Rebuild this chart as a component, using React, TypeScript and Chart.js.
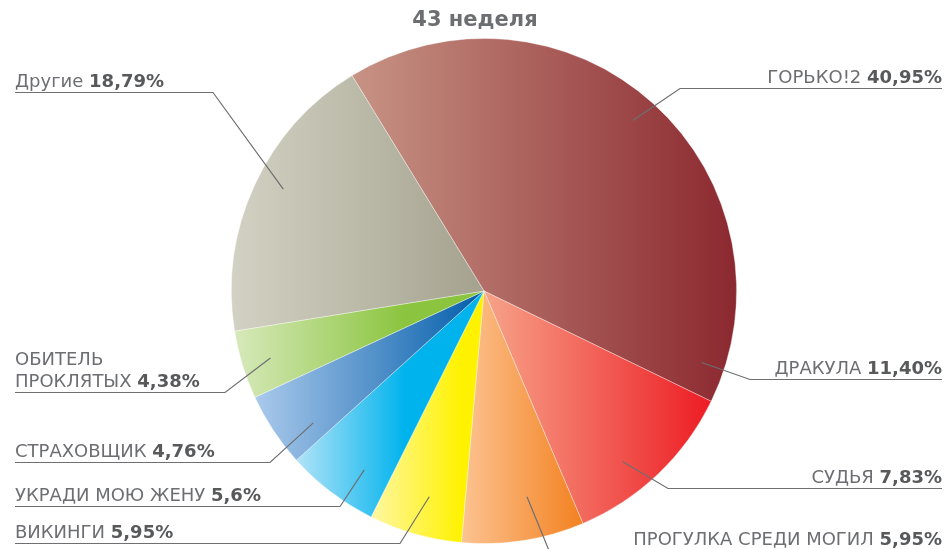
import React, { useEffect, useRef } from "react";
import { Chart, registerables } from "chart.js";

Chart.register(...registerables);

// ---------- data ----------
const TITLE = "43 неделя";
const SLICE_LABELS = [
  "ГОРЬКО!2",
  "ДРАКУЛА",
  "СУДЬЯ",
  "ПРОГУЛКА СРЕДИ МОГИЛ",
  "ВИКИНГИ",
  "СТРАХОВЩИК",
  "ОБИТЕЛЬ ПРОКЛЯТЫХ",
  "Другие",
];
const SLICE_VALUES = [40.95, 11.4, 7.83, 5.95, 5.95, 4.76, 4.38, 18.79];

// callout texts (as printed on the chart)
const CALLOUT_NAMES = [
  ["ГОРЬКО!2"],
  ["ДРАКУЛА"],
  ["СУДЬЯ"],
  ["ПРОГУЛКА СРЕДИ МОГИЛ"],
  ["ВИКИНГИ"],
  ["УКРАДИ МОЮ ЖЕНУ"],
  ["СТРАХОВЩИК"],
  ["ОБИТЕЛЬ", "ПРОКЛЯТЫХ"],
  ["Другие"],
];
const CALLOUT_PERCENTS = ["40,95%", "11,40%", "7,83%", "5,95%", "5,95%", "5,6%", "4,76%", "4,38%", "18,79%"];

// ---------- styles / layout ----------
const GRADIENT_LIGHT = ["#c79384", "#f7a389", "#fcc391", "#fff7a3", "#b2e3f8", "#abcaec", "#d7e9bb", "#d3d1c3"];
const GRADIENT_DARK = ["#8b282f", "#ed1c24", "#f38120", "#fff200", "#00b3ed", "#0a62ad", "#8bc53f", "#a4a28e"];
const GRADIENT_DARK_STOP = [1, 1, 1, 0.8, 0.58, 0.95, 0.68, 1];
const ROTATION_DEG = -31.5;

// anchor: angle (deg clockwise from top) & fraction of radius; dx: elbow x offset from centre; dy: underline y offset from centre
const CALLOUT_LAYOUT = [
  { side: "right", angle: 41.1, r: 0.896, dx: 196, dy: -203 },
  { side: "right", angle: 108.2, r: 0.907, dx: 266, dy: 88 },
  { side: "right", angle: 140.9, r: 0.871, dx: 184, dy: 197 },
  { side: "right", angle: 168.2, r: 0.832, dx: 65, dy: 258.5 },
  { side: "left", angle: 194.9, r: 0.843, dx: -84, dy: 252 },
  { side: "left", angle: 213.8, r: 0.852, dx: -144, dy: 215 },
  { side: "left", angle: 232.3, r: 0.854, dx: -214, dy: 171 },
  { side: "left", angle: 252.6, r: 0.886, dx: -259, dy: 101 },
  { side: "left", angle: 296.9, r: 0.891, dx: -271, dy: -199 },
];
const LEFT_X = 15;
const RIGHT_MARGIN = 8;
const LABEL_FONT = '18px "DejaVu Sans"';
const LABEL_FONT_BOLD = 'bold 18px "DejaVu Sans"';
const TITLE_FONT = 'bold 21px "DejaVu Sans"';
const NAME_COLOR = "#6d6e71";
const PCT_COLOR = "#58595b";
const LINE_COLOR = "#6f6f71";
const LINE_GAP = 22;

function sliceGradient(ctx: any) {
  const i = ctx.dataIndex;
  const chart = ctx.chart;
  const area = chart.chartArea;
  if (i === undefined || i === null) return GRADIENT_DARK[0];
  if (!area) return GRADIENT_DARK[i];
  const cx = (area.left + area.right) / 2;
  const r = Math.min(area.right - area.left, area.bottom - area.top) / 2;
  const values: number[] = ctx.dataset.data;
  const total = values.reduce((a, b) => a + b, 0);
  let start = ROTATION_DEG;
  for (let j = 0; j < i; j++) start += (values[j] / total) * 360;
  const end = start + (values[i] / total) * 360;
  const xs = [cx, cx + r * Math.sin((start * Math.PI) / 180), cx + r * Math.sin((end * Math.PI) / 180)];
  for (let k = -2; k <= 3; k++) {
    const a = 90 + k * 180;
    if (a > start && a < end) xs.push(cx + r * Math.sin((a * Math.PI) / 180));
  }
  const x0 = Math.min(...xs);
  const x1 = Math.max(...xs);
  const g = chart.ctx.createLinearGradient(x0, 0, x1, 0);
  g.addColorStop(0, GRADIENT_LIGHT[i]);
  g.addColorStop(GRADIENT_DARK_STOP[i], GRADIENT_DARK[i]);
  if (GRADIENT_DARK_STOP[i] < 1) g.addColorStop(1, GRADIENT_DARK[i]);
  return g;
}

const calloutPlugin = {
  id: "callouts",
  afterDraw(chart: any) {
    const arc = chart.getDatasetMeta(0).data[0];
    if (!arc) return;
    const cx = arc.x;
    const cy = arc.y;
    const R = arc.outerRadius;
    const c = chart.ctx as CanvasRenderingContext2D;
    const rightX = chart.width - RIGHT_MARGIN;
    c.save();
    // title
    c.font = TITLE_FONT;
    c.fillStyle = NAME_COLOR;
    c.textAlign = "center";
    c.textBaseline = "middle";
    c.fillText(TITLE, chart.width / 2, 21);

    c.textAlign = "left";
    c.textBaseline = "alphabetic";
    CALLOUT_NAMES.forEach((lines, i) => {
      const L = CALLOUT_LAYOUT[i];
      const th = (L.angle * Math.PI) / 180;
      const ax = cx + L.r * R * Math.sin(th);
      const ay = cy - L.r * R * Math.cos(th);
      const ly = Math.round(cy + L.dy) + 0.5;
      const ex = cx + L.dx;
      c.strokeStyle = LINE_COLOR;
      c.lineWidth = 1.2;
      c.beginPath();
      c.moveTo(ax, ay);
      c.lineTo(ex, ly);
      c.lineTo(L.side === "left" ? LEFT_X : rightX, ly);
      c.stroke();

      const baseline = ly - 5.5;
      lines.forEach((line, k) => {
        const y = baseline - (lines.length - 1 - k) * LINE_GAP;
        const isLast = k === lines.length - 1;
        c.font = LABEL_FONT;
        const nameText = isLast ? line + " " : line;
        const nameW = c.measureText(nameText).width;
        c.font = LABEL_FONT_BOLD;
        const pctW = isLast ? c.measureText(CALLOUT_PERCENTS[i]).width : 0;
        const x0 = L.side === "left" ? LEFT_X : rightX - nameW - pctW;
        c.font = LABEL_FONT;
        c.fillStyle = NAME_COLOR;
        c.fillText(nameText, x0, y);
        if (isLast) {
          c.font = LABEL_FONT_BOLD;
          c.fillStyle = PCT_COLOR;
          c.fillText(CALLOUT_PERCENTS[i], x0 + nameW, y);
        }
      });
    });
    c.restore();
  },
};

export default function App() {
  const ref = useRef<HTMLCanvasElement | null>(null);
  useEffect(() => {
    if (!ref.current) return;
    const chart = new Chart(ref.current, {
      type: "pie",
      data: {
        labels: SLICE_LABELS,
        datasets: [
          {
            data: SLICE_VALUES,
            backgroundColor: sliceGradient as any,
            borderColor: "rgba(255,255,255,0.45)",
            borderWidth: 0.8,
          },
        ],
      },
      options: {
        responsive: false,
        animation: false,
        events: [],
        rotation: ROTATION_DEG,
        layout: { padding: { left: 231, right: 213, top: 38, bottom: 5 } },
        plugins: {
          legend: { display: false },
          tooltip: { enabled: false },
          title: { display: false },
        },
      },
      plugins: [calloutPlugin],
    });
    return () => chart.destroy();
  }, []);
  return (
    <div style={{ position: "absolute", left: 0, top: 0, width: 950, height: 549, background: "#fff" }}>
      <canvas ref={ref} width={950} height={549} style={{ display: "block" }} />
    </div>
  );
}
